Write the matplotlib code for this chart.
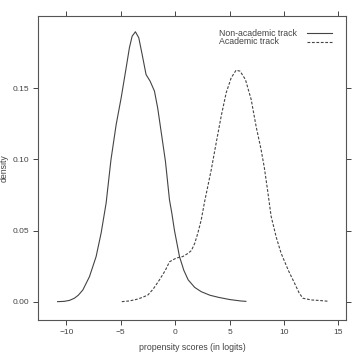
import matplotlib
matplotlib.use('Agg')
import matplotlib.pyplot as plt
from matplotlib.lines import Line2D

plt.rcParams['font.family'] = ['Liberation Sans', 'DejaVu Sans']

# densidade estimada - via não académica (linha contínua)
x_nonacad = [-10.8, -10.2, -9.7, -9.26, -8.9, -8.48, -7.87, -7.26, -6.8, -6.34,
             -5.9, -5.42, -4.96, -4.5, -4.2, -3.95, -3.65, -3.34, -3.03, -2.67,
             -2.3, -1.9, -1.6, -1.29, -0.89, -0.52, -0.3, -0.06, 0.4, 0.8,
             1.2, 1.8, 2.4, 3.2, 4.0, 5.0, 6.0, 6.5]
y_nonacad = [0.0, 0.0002, 0.0009, 0.0024, 0.0045, 0.0082, 0.0176, 0.0317, 0.0482, 0.0693,
             0.0995, 0.1244, 0.1432, 0.1644, 0.1785, 0.1866, 0.1897, 0.1855, 0.1737, 0.1596,
             0.155, 0.148, 0.136, 0.1197, 0.0986, 0.0716, 0.062, 0.050, 0.0317, 0.022,
             0.0153, 0.010, 0.007, 0.0045, 0.003, 0.0015, 0.0005, 0.0002]

# via académica (linha tracejada)
x_acad = [-4.9, -4.2, -3.5, -3.0, -2.5, -2.0, -1.44, -0.9, -0.52, 0.09,
          0.7, 1.2, 1.5, 1.8, 2.08, 2.4, 2.7, 3.0, 3.3, 3.77, 4.23,
          4.69, 5.15, 5.6, 5.97, 6.46, 6.99, 7.44, 7.9, 8.2, 8.5, 8.82,
          9.3, 9.74, 10.4, 10.97, 11.4, 11.74, 12.5, 13.3, 14.0]
y_acad = [0.000, 0.0005, 0.0017, 0.003, 0.0047, 0.009, 0.0153, 0.022, 0.028, 0.0306,
          0.0317, 0.034, 0.036, 0.041, 0.048, 0.0575, 0.0700, 0.081, 0.092, 0.1115, 0.1303,
          0.1468, 0.1573, 0.1627, 0.162, 0.1561, 0.142, 0.1232, 0.1068, 0.094, 0.078, 0.0600,
          0.045, 0.034, 0.022, 0.013, 0.006, 0.0024, 0.0012, 0.0008, 0.0003]

x_ticks = [-10, -5, 0, 5, 10, 15]
y_ticks = [0.00, 0.05, 0.10, 0.15]
rotulos = ['Non-academic track', 'Academic track']

cinza = '#444444'
W, H = 353, 352

fig = plt.figure(figsize=(3.53, 3.52), dpi=100, facecolor='white')
ax = fig.add_axes([38 / W, 32 / H, 308 / W, 304.3 / H])

ax.plot(x_nonacad, y_nonacad, color=cinza, lw=0.8)
ax.plot(x_acad, y_acad, color=cinza, lw=0.8, dashes=(2.5, 1.5))

ax.set_xlim(-12.6, 15.7)
ax.set_ylim(-0.0129, 0.201)

ax.set_xticks(x_ticks)
ax.set_yticks(y_ticks)
ax.set_yticklabels(['%.2f' % v for v in y_ticks])
ax.tick_params(direction='out', length=3.5, width=0.7, colors=cinza,
               labelsize=6, top=True, right=True, pad=3)

for s in ax.spines.values():
    s.set_color('#555555')
    s.set_linewidth(0.8)

ax.set_xlabel('propensity scores (in logits)', fontsize=6.3, color=cinza, labelpad=5)
ax.set_ylabel('density', fontsize=6.3, color=cinza)
ax.yaxis.set_label_coords(-29 / 308, 0.5)

# legenda manual (texto alinhado à esquerda, amostra de linha à direita)
estilos = [dict(), dict(dashes=(2.5, 1.5))]
for i, (rot, est) in enumerate(zip(rotulos, estilos)):
    yy = 1 - (33 + 9 * i) / H
    fig.text(219 / W, yy, rot, fontsize=6.3, color=cinza, ha='left', va='center')
    fig.add_artist(Line2D([307 / W, 332 / W], [yy, yy], transform=fig.transFigure,
                          color=cinza, lw=0.8, **est))

plt.savefig('out.png', dpi=100, facecolor='white')
